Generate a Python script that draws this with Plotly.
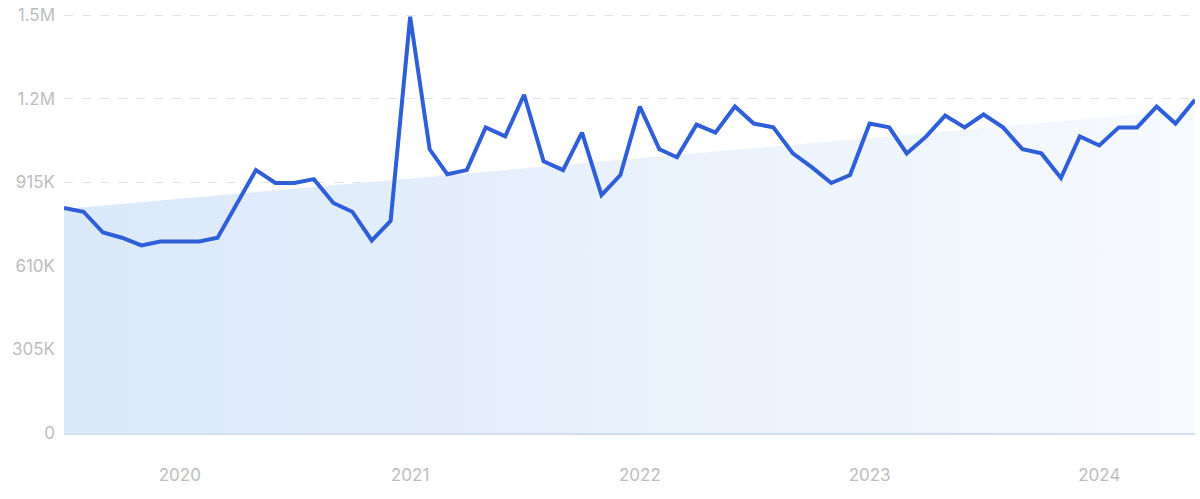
import pandas as pd
import plotly.graph_objects as go

# ---- data ----
start_month = "2019-07-01"
n_months = 60
values_k = [822, 808, 732, 713, 685, 699, 699, 699, 713, 837,
            960, 913, 913, 927, 840, 808, 703, 775, 1520, 1036,
            945, 960, 1116, 1083, 1235, 992, 960, 1097, 869, 942,
            1192, 1036, 1007, 1126, 1097, 1192, 1130, 1116, 1021, 971,
            913, 942, 1130, 1116, 1021, 1083, 1159, 1116, 1163, 1116,
            1036, 1021, 931, 1083, 1050, 1116, 1116, 1192, 1130, 1217]
trend_start_k = 818
trend_end_k = 1182
y_tickvals = [0, 305000, 610000, 915000, 1220000, 1525000]
y_ticktext = ["0", "305K", "610K", "915K", "1.2M", "1.5M"]
x_tickvals = ["2020-01-01", "2021-01-01", "2022-01-01", "2023-01-01", "2024-01-01"]
x_ticktext = ["2020", "2021", "2022", "2023", "2024"]

months = pd.date_range(start_month, periods=n_months, freq="MS")
values = [v * 1000 for v in values_k]

fig = go.Figure()

fig.add_trace(go.Scatter(
    x=[months[0], months[-1]],
    y=[trend_start_k * 1000, trend_end_k * 1000],
    mode="lines",
    line=dict(width=0, color="rgba(0,0,0,0)"),
    fill="tozeroy",
    fillgradient=dict(
        type="horizontal",
        colorscale=[[0, "rgb(218,232,249)"], [1, "rgb(247,250,254)"]],
    ),
    hoverinfo="skip",
    showlegend=False,
))

fig.add_trace(go.Scatter(
    x=months,
    y=values,
    mode="lines",
    line=dict(color="#2f5fd8", width=4),
    showlegend=False,
    cliponaxis=False,
))

fig.update_layout(
    width=1200,
    height=499,
    margin=dict(l=64, r=5, t=10, b=66),
    paper_bgcolor="white",
    plot_bgcolor="white",
    font=dict(family="Inter, Open Sans, sans-serif", size=16, color="#b9b9b9"),
)

fig.update_xaxes(
    type="date",
    range=[months[0], months[-1]],
    tickvals=x_tickvals,
    ticktext=x_ticktext,
    showgrid=False,
    zeroline=False,
    showline=True,
    linecolor="#d3def0",
    linewidth=1.5,
    ticks="",
    ticklabelstandoff=26,
    tickfont=dict(size=17, color="#bdbdbd"),
)

fig.update_yaxes(
    range=[0, 1530000],
    tickvals=y_tickvals,
    ticktext=y_ticktext,
    showgrid=True,
    gridcolor="#dfe4ec",
    griddash="dash",
    gridwidth=1,
    zeroline=False,
    showline=False,
    ticks="",
    ticklabelstandoff=8,
    tickfont=dict(size=17, color="#bdbdbd"),
)

fig.write_html(
    "out.html",
    config={"displayModeBar": False},
    post_script="document.body.style.margin='0';document.body.style.overflow='hidden';",
)
